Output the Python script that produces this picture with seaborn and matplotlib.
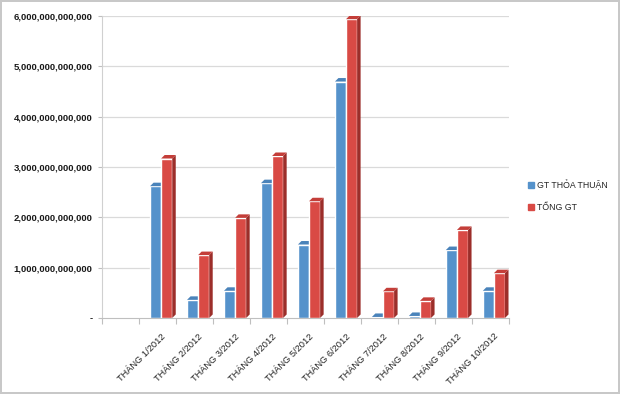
import matplotlib
matplotlib.use("Agg")
import matplotlib.pyplot as plt
import seaborn as sns
import pandas as pd
import numpy as np
from matplotlib.patches import Polygon, Rectangle
from matplotlib.lines import Line2D
from matplotlib.ticker import FuncFormatter, FixedLocator

months = ["THÁNG 1/2012", "THÁNG 2/2012", "THÁNG 3/2012", "THÁNG 4/2012", "THÁNG 5/2012",
          "THÁNG 6/2012", "THÁNG 7/2012", "THÁNG 8/2012", "THÁNG 9/2012", "THÁNG 10/2012"]
gt_thoa_thuan = [2.62e12, 0.36e12, 0.54e12, 2.68e12, 1.46e12, 4.70e12, 0.02e12, 0.04e12, 1.35e12, 0.54e12]
tong_gt = [3.17e12, 1.25e12, 1.99e12, 3.22e12, 2.32e12, 5.94e12, 0.53e12, 0.34e12, 1.75e12, 0.89e12]
series_names = ["GT THỎA THUẬN", "TỔNG GT"]
yticks = [0, 1e12, 2e12, 3e12, 4e12, 5e12, 6e12]

colors = ["#5592CB", "#D94A45"]
side_colors = ["#3B6C9C", "#9C2E2A"]
top_colors = ["#4A83BA", "#C43E39"]

sns.set_theme(style="white")
plt.rcParams["font.family"] = ["Liberation Sans", "DejaVu Sans"]

df = pd.DataFrame({
    "month": months * 2,
    "value": gt_thoa_thuan + tong_gt,
    "series": [series_names[0]] * len(months) + [series_names[1]] * len(months),
})

fig = plt.figure(figsize=(6.2, 3.94), dpi=100)
fig.patch.set_facecolor("white")
ax = fig.add_axes([0.1645, 0.193, 0.656, 0.766])

sns.barplot(data=df, x="month", y="value", hue="series", order=months, hue_order=series_names,
            palette=colors, width=0.6, gap=0, saturation=1, ax=ax, legend=False, errorbar=None)

ax.set_xlim(-1.6, len(months) - 0.6)
ax.set_ylim(0, 6e12)
ax.set_xlabel("")
ax.set_ylabel("")

# gridlines
for v in yticks[1:]:
    ax.axhline(v, color="#DADADA", lw=0.9, zorder=0)

ax.yaxis.set_major_locator(FixedLocator(yticks))
ax.yaxis.set_major_formatter(FuncFormatter(lambda v, p: "-" if v == 0 else f"{v:,.0f}"))
for lab in ax.get_yticklabels():
    lab.set_fontsize(6.8)
    lab.set_fontweight("bold")
    lab.set_color("#1a1a1a")
ax.tick_params(axis="y", left=True, length=3, width=0.8, color="#BFBFBF", pad=4)

ax.set_xticks(range(len(months)))
ax.set_xticklabels(months, rotation=45, ha="right", rotation_mode="anchor",
                   fontsize=6.7, color="#222222")
ax.set_xticks(np.arange(-1.6, len(months) - 0.5), minor=True)
ax.tick_params(axis="x", which="major", length=0, pad=10)
ax.tick_params(axis="x", which="minor", bottom=True, length=4, width=0.8, color="#BFBFBF")

for s in ["top", "right"]:
    ax.spines[s].set_visible(False)
ax.spines["left"].set_color("#D0D0D0")
ax.spines["bottom"].set_color("#BFBFBF")
ax.spines["left"].set_linewidth(0.8)
ax.spines["bottom"].set_linewidth(0.8)

# pseudo-3D faces on the bars
fig.canvas.draw()
inv = ax.transData.inverted()
p0 = inv.transform((0, 0))
p1 = inv.transform((3.5, 3.5))
dx, dy = p1[0] - p0[0], p1[1] - p0[1]
bars = [p for p in ax.patches if isinstance(p, Rectangle)]
n = len(months)
for i, b in enumerate(bars):
    k = 0 if i < n else 1
    x, w, h = b.get_x(), b.get_width(), b.get_height()
    b.set_zorder(2 + k)
    side = Polygon([(x + w, 0), (x + w, h), (x + w + dx, h + dy), (x + w + dx, dy)],
                   closed=True, facecolor=side_colors[k], edgecolor="none", zorder=2 + k)
    top = Polygon([(x, h), (x + w, h), (x + w + dx, h + dy), (x + dx, h + dy)],
                  closed=True, facecolor=top_colors[k], edgecolor="none", zorder=2 + k)
    ax.add_patch(side)
    ax.add_patch(top)

handles = [Line2D([], [], marker="s", linestyle="none", markersize=4.0,
                  markerfacecolor=c, markeredgecolor=c) for c in colors]
fig.legend(handles, series_names, loc="center left", bbox_to_anchor=(0.851, 0.503),
           frameon=False, fontsize=6.3, handletextpad=0.3, labelspacing=1.5,
           handlelength=0.8, borderaxespad=0, borderpad=0)

fig.patch.set_edgecolor("#C8C8C8")
fig.patch.set_linewidth(1.5)
fig.savefig("out.png", dpi=100, facecolor="white", edgecolor=fig.get_edgecolor())
